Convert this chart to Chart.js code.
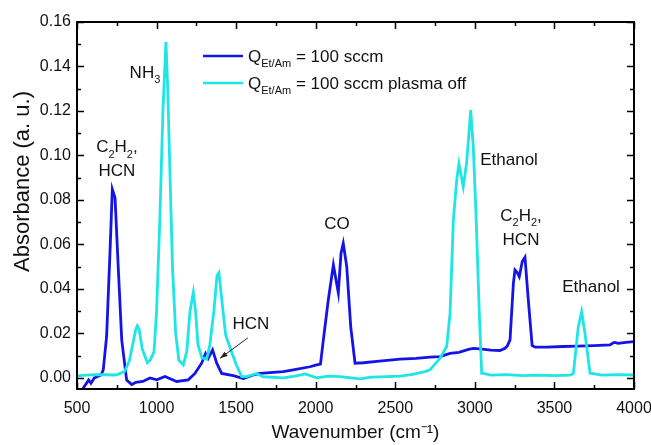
<!DOCTYPE html>
<html>
<head>
<meta charset="utf-8">
<script src="https://cdn.jsdelivr.net/npm/chart.js@4.4.1/dist/chart.umd.min.js"></script>
<style>
html,body{margin:0;padding:0;background:#fff;}
#wrap{width:651px;height:445px;position:relative;}
</style>
</head>
<body>
<div id="wrap"><canvas id="c" width="651" height="445"></canvas></div>
<script>
// ---- data ----
const seriesNames = ["Q_Et/Am = 100 sccm", "Q_Et/Am = 100 sccm plasma off"];

const waveOn = [505, 540, 573, 588, 609, 651, 665, 686, 707, 722, 739, 760, 781, 812, 844, 870, 913, 959, 1001, 1053, 1126, 1199, 1241, 1283, 1308, 1325, 1352, 1378, 1409, 1482, 1545, 1608, 1650, 1796, 1859, 1964, 2006, 2030, 2048, 2079, 2111, 2142, 2159, 2173, 2195, 2220, 2247, 2300, 2400, 2530, 2630, 2718, 2781, 2844, 2900, 2960, 2990, 3032, 3100, 3158, 3190, 3205, 3221, 3242, 3252, 3265, 3279, 3298, 3315, 3336, 3360, 3380, 3450, 3556, 3650, 3750, 3849, 3870, 3881, 3900, 3950, 4000];
const absOn  = [-0.010, -0.0045, -0.0009, -0.0024, 0.0, 0.0013, 0.0036, 0.0186, 0.056, 0.0848, 0.081, 0.0485, 0.0171, -0.001, -0.003, -0.002, -0.0016, 0.0, -0.0009, 0.0006, -0.0016, -0.0009, 0.002, 0.0066, 0.011, 0.0088, 0.0126, 0.0066, 0.002, 0.001, -0.0003, 0.0013, 0.002, 0.0028, 0.0036, 0.005, 0.0058, 0.0062, 0.0171, 0.035, 0.0508, 0.0383, 0.056, 0.0605, 0.05, 0.023, 0.0066, 0.0068, 0.0075, 0.0084, 0.0088, 0.0093, 0.0096, 0.011, 0.0115, 0.0128, 0.0133, 0.013, 0.0125, 0.0123, 0.0133, 0.0145, 0.0171, 0.0425, 0.0485, 0.0475, 0.0455, 0.0523, 0.0542, 0.035, 0.0145, 0.0138, 0.0138, 0.0141, 0.0143, 0.0145, 0.0148, 0.0158, 0.0159, 0.0155, 0.016, 0.0163];

const waveOff = [500, 560, 620, 680, 740, 766, 800, 830, 850, 870, 879, 890, 910, 942, 960, 984, 1000, 1020, 1040, 1059, 1070, 1085, 1100, 1120, 1140, 1168, 1190, 1210, 1231, 1245, 1260, 1285, 1315, 1335, 1360, 1380, 1392, 1410, 1434, 1460, 1500, 1535, 1566, 1629, 1670, 1796, 1870, 1933, 2006, 2080, 2153, 2278, 2350, 2446, 2530, 2600, 2687, 2718, 2781, 2823, 2844, 2865, 2886, 2900, 2927, 2948, 2974, 2990, 3007, 3028, 3043, 3053, 3100, 3200, 3300, 3400, 3500, 3600, 3619, 3650, 3671, 3692, 3724, 3734, 3800, 3900, 4000];
const absOff  = [0.0009, 0.0012, 0.0015, 0.0014, 0.0013, 0.0018, 0.003, 0.008, 0.015, 0.022, 0.0234, 0.022, 0.013, 0.0069, 0.008, 0.0118, 0.03, 0.07, 0.12, 0.151, 0.13, 0.09, 0.05, 0.02, 0.008, 0.0058, 0.012, 0.03, 0.0384, 0.03, 0.015, 0.009, 0.0084, 0.015, 0.03, 0.046, 0.0473, 0.035, 0.0193, 0.014, 0.006, 0.0006, 0.0006, 0.002, 0.0005, 0.0, 0.0008, 0.0018, 0.0, 0.0008, 0.0006, -0.0004, 0.0003, 0.0006, 0.0008, 0.0015, 0.0028, 0.0036, 0.0088, 0.0141, 0.029, 0.071, 0.089, 0.0962, 0.086, 0.0965, 0.1204, 0.104, 0.074, 0.029, 0.002, 0.002, 0.0012, 0.0015, 0.001, 0.0012, 0.001, 0.0012, 0.002, 0.023, 0.0298, 0.02, 0.002, 0.002, 0.0012, 0.0015, 0.0013];

const xMajorTicks = [500, 1000, 1500, 2000, 2500, 3000, 3500, 4000];
const xMinorTicks = [750, 1250, 1750, 2250, 2750, 3250, 3750];
const yMajorTicks = [0.00, 0.02, 0.04, 0.06, 0.08, 0.10, 0.12, 0.14, 0.16];
const yMinorTicks = [0.01, 0.03, 0.05, 0.07, 0.09, 0.11, 0.13, 0.15];

// annotation labels: [lines of parts], anchor wavenumber, anchor absorbance (centre of first line)
const annotations = [
  {lines: [[["C"],["2",1],["H"],["2",1],[","]], [["HCN"]]], x: 751, y: 0.1035},
  {lines: [[["NH"],["3",1]]], x: 927, y: 0.137},
  {lines: [[["HCN"]]], x: 1593, y: 0.0243},
  {lines: [[["CO"]]], x: 2134, y: 0.0692},
  {lines: [[["Ethanol"]]], x: 3215, y: 0.098},
  {lines: [[["C"],["2",1],["H"],["2",1],[","]], [["HCN"]]], x: 3290, y: 0.0728},
  {lines: [[["Ethanol"]]], x: 3730, y: 0.0409}
];
const arrowFrom = [1574, 0.018];
const arrowTo = [1399, 0.0088];

const colOn = '#1414e6';
const colOff = '#1ee6e6';
const FONT = '"Liberation Sans", Arial, sans-serif';

function pts(xs, ys){ return xs.map((x,i)=>({x:x, y:ys[i]})); }

function partsWidth(ctx, parts, size){
  let w = 0;
  for (const p of parts){
    ctx.font = (p[1] ? Math.round(size*0.62) : size) + 'px ' + FONT;
    w += ctx.measureText(p[0]).width;
  }
  return w;
}
function drawParts(ctx, parts, x, y, size, align){
  let w = partsWidth(ctx, parts, size);
  let cx = align === 'center' ? x - w/2 : x;
  ctx.textBaseline = 'middle';
  ctx.textAlign = 'left';
  for (const p of parts){
    const s = p[1] ? Math.round(size*0.62) : size;
    ctx.font = s + 'px ' + FONT;
    ctx.fillText(p[0], cx, p[1] ? y + size*0.4 : y);
    cx += ctx.measureText(p[0]).width;
  }
}

const decor = {
  id: 'decor',
  afterDraw(chart){
    const ctx = chart.ctx;
    const xs = chart.scales.x, ys = chart.scales.y;
    const a = chart.chartArea;
    ctx.save();
    ctx.strokeStyle = '#000';
    ctx.lineWidth = 2;
    ctx.strokeRect(a.left, a.top, a.right - a.left, a.bottom - a.top);
    ctx.lineWidth = 1.5;
    ctx.beginPath();
    const tick = (vals, len) => {
      for (const v of vals){
        const px = Math.round(xs.getPixelForValue(v)) + 0.5;
        ctx.moveTo(px, a.bottom); ctx.lineTo(px, a.bottom - len);
        ctx.moveTo(px, a.top); ctx.lineTo(px, a.top + len);
      }
    };
    const ytick = (vals, len) => {
      for (const v of vals){
        const py = Math.round(ys.getPixelForValue(v)) + 0.5;
        ctx.moveTo(a.left, py); ctx.lineTo(a.left + len, py);
        ctx.moveTo(a.right, py); ctx.lineTo(a.right - len, py);
      }
    };
    tick(xMajorTicks, 7); tick(xMinorTicks, 4);
    ytick(yMajorTicks, 7); ytick(yMinorTicks, 4);
    ctx.stroke();

    // y axis title
    ctx.save();
    ctx.translate(23, (a.top + a.bottom) / 2 - 24);
    ctx.rotate(-Math.PI / 2);
    ctx.fillStyle = '#111';
    ctx.font = '22px ' + FONT;
    ctx.textAlign = 'center';
    ctx.textBaseline = 'middle';
    ctx.fillText('Absorbance (a. u.)', 0, 0);
    ctx.restore();

    // annotations
    ctx.fillStyle = '#111';
    for (const an of annotations){
      const px = xs.getPixelForValue(an.x);
      let py = ys.getPixelForValue(an.y);
      for (const line of an.lines){
        drawParts(ctx, line, px, py, 17, 'center');
        py += 24;
      }
    }
    // arrow
    const x1 = xs.getPixelForValue(arrowFrom[0]), y1 = ys.getPixelForValue(arrowFrom[1]);
    const x2 = xs.getPixelForValue(arrowTo[0]), y2 = ys.getPixelForValue(arrowTo[1]);
    ctx.strokeStyle = '#222'; ctx.lineWidth = 1;
    ctx.beginPath(); ctx.moveTo(x1, y1); ctx.lineTo(x2, y2); ctx.stroke();
    const ang = Math.atan2(y2 - y1, x2 - x1);
    ctx.beginPath();
    ctx.moveTo(x2, y2);
    ctx.lineTo(x2 - 8*Math.cos(ang - 0.35), y2 - 8*Math.sin(ang - 0.35));
    ctx.lineTo(x2 - 8*Math.cos(ang + 0.35), y2 - 8*Math.sin(ang + 0.35));
    ctx.closePath(); ctx.fillStyle = '#222'; ctx.fill();

    // legend
    const lx = a.left + 126, ly = a.top + 34;
    const cols = [colOn, colOff];
    const suffix = [' = 100 sccm', ' = 100 sccm plasma off'];
    ctx.lineWidth = 2.5;
    for (let i = 0; i < 2; i++){
      const y = ly + i*27;
      ctx.strokeStyle = cols[i];
      ctx.beginPath(); ctx.moveTo(lx, y); ctx.lineTo(lx + 40, y); ctx.stroke();
      ctx.fillStyle = '#111';
      drawParts(ctx, [["Q"],["Et/Am",1],[suffix[i]]], lx + 45, y + 1, 17, 'left');
    }
    ctx.restore();
  }
};

new Chart(document.getElementById('c'), {
  type: 'line',
  data: {
    datasets: [
      {label: seriesNames[0], data: pts(waveOn, absOn), borderColor: colOn, borderWidth: 2.8, pointRadius: 0, tension: 0, order: 1},
      {label: seriesNames[1], data: pts(waveOff, absOff), borderColor: colOff, borderWidth: 2.8, pointRadius: 0, tension: 0, order: 0}
    ]
  },
  options: {
    responsive: false,
    animation: false,
    devicePixelRatio: 1,
    layout: {padding: {top: 22, right: 17, left: 0, bottom: 0}},
    plugins: {legend: {display: false}, tooltip: {enabled: false}},
    scales: {
      x: {
        type: 'linear', min: 500, max: 4000,
        grid: {display: false, drawTicks: false},
        border: {display: false},
        afterBuildTicks: s => { s.ticks = xMajorTicks.map(v => ({value: v})); },
        afterFit: s => { s.height = 56; s.paddingLeft = 0; s.paddingRight = 0; },
        ticks: {color: '#111', font: {family: FONT, size: 16}, padding: 10, maxRotation: 0, autoSkip: false, callback: v => String(v)},
        title: {display: true, text: 'Wavenumber (cm⁻¹)', color: '#111', font: {family: FONT, size: 19}, padding: {top: 0, bottom: 1}}
      },
      y: {
        type: 'linear', min: -0.005, max: 0.16,
        grid: {display: false, drawTicks: false},
        border: {display: false},
        afterBuildTicks: s => { s.ticks = yMajorTicks.map(v => ({value: v})); },
        afterFit: s => { s.width = 77; s.paddingTop = 0; s.paddingBottom = 0; },
        ticks: {color: '#111', font: {family: FONT, size: 16}, padding: 6, callback: v => v.toFixed(2)},
        title: {display: false}
      }
    }
  },
  plugins: [decor]
});
</script>
</body>
</html>
